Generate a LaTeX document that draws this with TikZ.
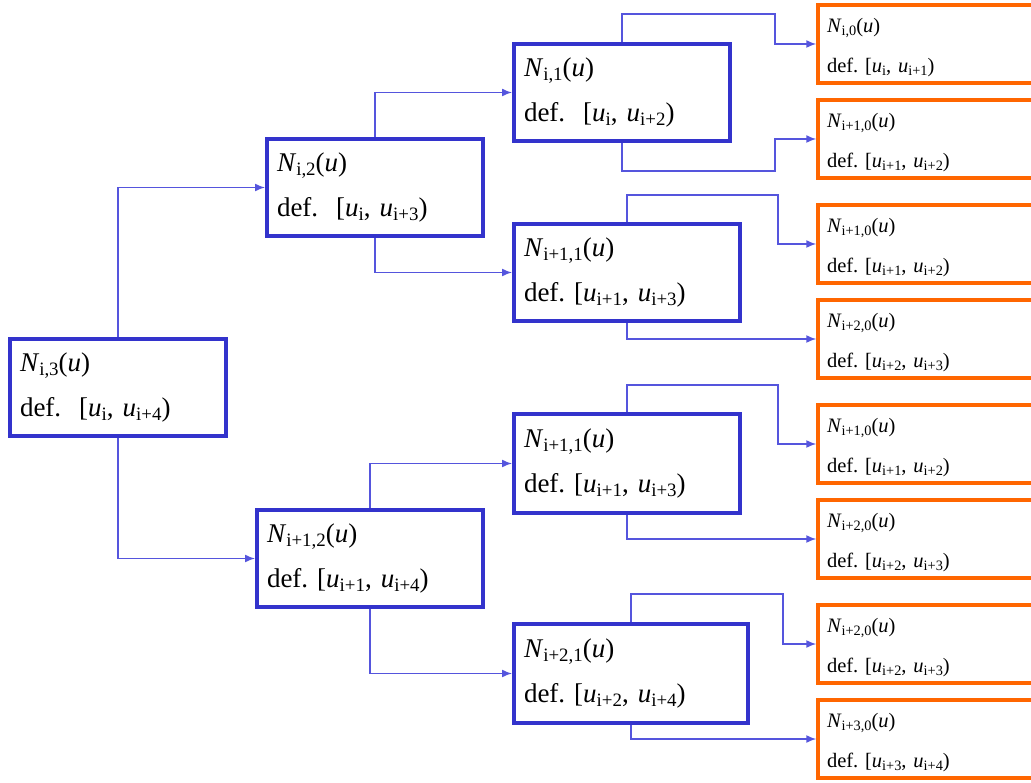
\documentclass[tikz,border=0pt]{standalone}
\usepackage{fontspec}
\setmainfont{Liberation Serif}
\usepackage{amsmath}
\usetikzlibrary{arrows.meta}
\definecolor{BsBlue}{RGB}{51,51,204}
\definecolor{BsLink}{RGB}{85,85,221}
\definecolor{BsOrange}{RGB}{255,102,0}
\newcommand{\Nsub}[1]{\textit{N}$_{\text{#1}}$(\textit{u})}
\newcommand{\usub}[1]{\textit{u}$_{\text{#1}}$}
\tikzset{
  bs/box/.style={
    draw=BsBlue,
    line width=4pt,
    fill=white,
    align=left,
    inner xsep=10pt,
    font=\fontsize{27}{45}\selectfont
  },
  bs/leaf/.style={
    draw=BsOrange,
    line width=3.5pt,
    fill=white,
    align=left,
    inner xsep=9pt,
    minimum height=78pt,
    text width=212pt,
    font=\fontsize{20.5}{40}\selectfont
  },
  bs/arrow/.style={-{Latex[length=10pt,width=8pt]}, line width=1.5pt, draw=BsLink}
}
\begin{document}
\frenchspacing
\scriptspace=0pt
\begin{tikzpicture}[x=1pt,y=-1pt]
  \useasboundingbox (0,0) rectangle (1031,783);
  \clip (0,0) rectangle (1031,783);
  % degree 3 and 2
  \node[bs/box,minimum width=216pt,minimum height=97pt,text width=196pt] (n13) at (118,387.5)
    {\Nsub{i,3}\\def.\ \ [\usub{i}, \usub{i+4})};
  \node[bs/box,minimum width=216pt,minimum height=97pt,text width=196pt] (n12) at (375,187.5)
    {\Nsub{i,2}\\def.\ \ [\usub{i}, \usub{i+3})};
  \node[bs/box,minimum width=226pt,minimum height=97pt,text width=206pt] (n112) at (370,558.5)
    {\Nsub{i+1,2}\\def. [\usub{i+1}, \usub{i+4})};
  % degree 1
  \node[bs/box,minimum width=216pt,minimum height=97pt,text width=196pt] (n11) at (622,92.5)
    {\Nsub{i,1}\\def.\ \ [\usub{i}, \usub{i+2})};
  \node[bs/box,minimum width=226pt,minimum height=97pt,text width=206pt] (n111a) at (627,272.5)
    {\Nsub{i+1,1}\\def. [\usub{i+1}, \usub{i+3})};
  \node[bs/box,minimum width=226pt,minimum height=99pt,text width=206pt] (n111b) at (627,463.5)
    {\Nsub{i+1,1}\\def. [\usub{i+1}, \usub{i+3})};
  \node[bs/box,minimum width=234pt,minimum height=99pt,text width=214pt] (n21) at (631,673.5)
    {\Nsub{i+2,1}\\def. [\usub{i+2}, \usub{i+4})};
  % degree 0
  \foreach \k/\y/\n/\a/\b in {1/44/{i,0}/i/{i+1},2/139/{i+1,0}/{i+1}/{i+2},
      3/244/{i+1,0}/{i+1}/{i+2},4/339/{i+2,0}/{i+2}/{i+3},
      5/444/{i+1,0}/{i+1}/{i+2},6/539/{i+2,0}/{i+2}/{i+3},
      7/644/{i+2,0}/{i+2}/{i+3},8/739/{i+3,0}/{i+3}/{i+4}}{
    \node[bs/leaf] (o\k) at (933,\y) {\rule{0pt}{22pt}\Nsub{\n}\\def. [\usub{\a}, \usub{\b})};
  }
  % connectors
  \draw[bs/arrow] (n13.north) |- (n12.west);
  \draw[bs/arrow] (n13.south) |- (n112.west);
  \draw[bs/arrow] (n12.north) |- (n11.west);
  \draw[bs/arrow] (n12.south) |- (n111a.west);
  \draw[bs/arrow] (n112.north) |- (n111b.west);
  \draw[bs/arrow] (n112.south) |- (n21.west);
  \draw[bs/arrow] (n11.north) |- (775,14) |- (o1.west);
  \draw[bs/arrow] (n11.south) |- (775,171) |- (o2.west);
  \draw[bs/arrow] (n111a.north) |- (778,195) |- (o3.west);
  \draw[bs/arrow] (n111a.south) |- (o4.west);
  \draw[bs/arrow] (n111b.north) |- (778,385) |- (o5.west);
  \draw[bs/arrow] (n111b.south) |- (o6.west);
  \draw[bs/arrow] (n21.north) |- (783,594) |- (o7.west);
  \draw[bs/arrow] (n21.south) |- (o8.west);
\end{tikzpicture}
\end{document}
